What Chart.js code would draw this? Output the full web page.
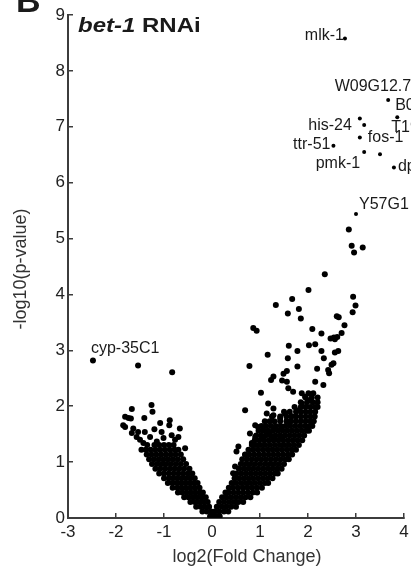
<!DOCTYPE html>
<html>
<head>
<meta charset="utf-8">
<script src="https://cdn.jsdelivr.net/npm/chart.js@4.4.0/dist/chart.umd.min.js"></script>
<style>
  html, body { margin: 0; padding: 0; background: #fff; }
  #wrap { width: 411px; height: 573px; }
</style>
</head>
<body>
<div id="wrap"><canvas id="volcano" width="411" height="573"></canvas></div>
<script>
////data//////////////////////////////////////////////////////////////

// named genes: log2 fold change / -log10 p
const geneNames = ["mlk-1", "W09G12.7", "B0", "T19", "his-24", "fos-1", "ttr-51", "pmk-1", "dpy", "Y57G1", "cyp-35C1"];
const geneLogFC = [2.77, 4.19, 3.67, 3.86, 3.08, 3.08, 2.53, 3.17, 3.79, 3.0, -2.48];
const geneLogP = [8.58, 7.69, 7.48, 7.17, 7.15, 6.81, 6.66, 6.55, 6.27, 5.44, 2.82];

// scattered up-regulated genes [log2FC, -log10 p]
const upSparse = [
  [3.17, 7.03], [3.5, 6.51], [2.85, 5.16], [2.91, 4.87], [2.96, 4.75], [3.14, 4.84], [2.35, 4.36],
  [2.01, 4.08], [2.94, 3.96], [2.99, 3.8], [2.93, 3.68], [1.67, 3.92], [1.33, 3.81], [1.81, 3.74],
  [1.58, 3.66], [1.85, 3.57], [2.6, 3.61], [2.64, 3.59], [2.76, 3.45], [2.7, 3.31], [0.86, 3.4],
  [0.93, 3.35], [2.09, 3.38], [2.28, 3.3], [2.47, 3.21], [2.54, 3.23], [2.61, 3.24], [2.56, 3.2],
  [1.6, 3.08], [2.02, 3.09], [2.15, 3.11], [1.78, 2.99], [2.28, 2.99], [2.56, 2.96], [2.63, 2.99],
  [1.16, 2.92], [1.58, 2.86], [2.33, 2.86], [2.53, 2.77], [2.49, 2.74], [0.78, 2.72], [1.78, 2.71],
  [2.19, 2.67], [2.42, 2.65], [2.44, 2.59], [1.56, 2.63], [1.49, 2.58], [1.28, 2.53], [1.23, 2.47],
  [1.46, 2.46], [1.56, 2.44], [2.15, 2.44], [2.32, 2.38], [1.59, 2.32], [1.69, 2.26], [1.02, 2.24],
  [1.87, 2.23], [2.01, 2.23], [2.11, 2.23], [0.69, 1.93], [1.17, 2.05], [1.14, 1.87], [1.28, 1.84],
  [1.28, 1.96], [1.52, 1.87], [1.42, 1.78], [1.94, 2.17], [2.04, 2.11], [1.87, 2.05], [1.8, 1.93],
  [1.66, 1.82], [1.59, 1.72], [0.9, 1.66], [0.96, 1.63], [1.07, 1.57], [0.79, 1.51], [0.9, 1.45],
  [1.07, 1.45], [1.17, 1.54], [1.28, 1.43], [1.31, 1.6], [1.45, 1.6], [1.42, 1.45], [0.55, 1.28],
  [0.51, 1.19], [0.69, 1.13], [0.83, 1.34], [0.48, 0.92], [0.44, 0.8]
];

// scattered down-regulated genes [log2FC, -log10 p]
const downSparse = [
  [-1.54, 2.73], [-0.83, 2.61], [-1.67, 1.95], [-1.26, 2.02], [-1.24, 1.9], [-1.81, 1.81],
  [-1.74, 1.79], [-1.69, 1.78], [-1.41, 1.79], [-1.85, 1.66], [-1.81, 1.63], [-1.64, 1.6],
  [-1.08, 1.7], [-0.88, 1.75], [-0.89, 1.66], [-0.67, 1.6], [-1.2, 1.59], [-1.67, 1.52],
  [-1.57, 1.45], [-1.5, 1.4], [-1.43, 1.34], [-1.47, 1.22], [-1.29, 1.45], [-1.05, 1.54],
  [-1.01, 1.43], [-0.84, 1.48], [-0.77, 1.4], [-0.7, 1.45], [-0.56, 1.25], [-1.15, 1.37],
  [-1.4, 1.54], [-1.54, 1.54]
];

// dense bulk, read row by row: [-log10 p, [log2FC ...]]
const upRows = [
  [0.03, [0.03, 0.1, 0.16]],
  [0.115, [0.06, 0.15, 0.25, 0.34]],
  [0.2, [0.1, 0.2, 0.3, 0.4, 0.5]],
  [0.285, [0.15, 0.25, 0.35, 0.45, 0.55, 0.65]],
  [0.37, [0.21, 0.3, 0.4, 0.5, 0.6, 0.7, 0.8]],
  [0.455, [0.28, 0.35, 0.45, 0.55, 0.65, 0.75, 0.85, 0.94]],
  [0.54, [0.35, 0.44, 0.54, 0.64, 0.74, 0.84, 0.94, 1.04]],
  [0.625, [0.41, 0.5, 0.6, 0.7, 0.8, 0.9, 1.0, 1.1, 1.17]],
  [0.71, [0.47, 0.56, 0.66, 0.76, 0.86, 0.96, 1.06, 1.16, 1.26]],
  [0.795, [0.51, 0.61, 0.71, 0.81, 0.91, 1.01, 1.11, 1.21, 1.31, 1.37]],
  [0.88, [0.56, 0.66, 0.76, 0.86, 0.96, 1.06, 1.16, 1.26, 1.36, 1.45]],
  [0.965, [0.6, 0.7, 0.8, 0.9, 1.0, 1.1, 1.2, 1.3, 1.4, 1.5]],
  [1.05, [0.63, 0.73, 0.83, 0.93, 1.03, 1.13, 1.23, 1.33, 1.43, 1.53, 1.6]],
  [1.135, [0.69, 0.78, 0.88, 0.98, 1.08, 1.18, 1.28, 1.38, 1.48, 1.58, 1.67]],
  [1.22, [0.76, 0.86, 0.96, 1.06, 1.16, 1.26, 1.36, 1.46, 1.56, 1.66, 1.75]],
  [1.305, [0.83, 0.91, 1.01, 1.11, 1.21, 1.31, 1.41, 1.51, 1.61, 1.71, 1.81]],
  [1.39, [0.89, 0.98, 1.08, 1.18, 1.28, 1.38, 1.48, 1.58, 1.68, 1.78, 1.88]],
  [1.475, [0.92, 1.02, 1.12, 1.22, 1.32, 1.42, 1.52, 1.62, 1.72, 1.82, 1.92]],
  [1.56, [0.97, 1.07, 1.17, 1.27, 1.37, 1.47, 1.57, 1.67, 1.77, 1.87, 1.97, 2.02]],
  [1.645, [1.03, 1.13, 1.23, 1.33, 1.43, 1.53, 1.63, 1.73, 1.83, 1.93, 2.03, 2.09]],
  [1.73, [1.1, 1.2, 1.3, 1.42, 1.55, 1.65, 1.75, 1.85, 1.95, 2.05, 2.12]],
  [1.815, [1.25, 1.42, 1.55, 1.65, 1.75, 1.85, 1.95, 2.05, 2.14]],
  [1.9, [1.5, 1.62, 1.75, 1.85, 1.95, 2.05, 2.15]],
  [1.985, [1.72, 1.85, 1.95, 2.05, 2.15, 2.2]],
  [2.07, [1.85, 1.98, 2.1, 2.2]],
  [2.155, [1.95, 2.08, 2.2]]
];

const downRows = [
  [0.03, [-0.04, 0.0]],
  [0.115, [-0.2, -0.11, -0.02]],
  [0.2, [-0.33, -0.24, -0.15, -0.06]],
  [0.285, [-0.45, -0.36, -0.27, -0.18, -0.09]],
  [0.37, [-0.58, -0.49, -0.4, -0.31, -0.22, -0.13]],
  [0.455, [-0.71, -0.62, -0.53, -0.44, -0.35, -0.26, -0.19]],
  [0.54, [-0.82, -0.72, -0.63, -0.54, -0.45, -0.36, -0.26]],
  [0.625, [-0.92, -0.83, -0.74, -0.65, -0.56, -0.47, -0.38, -0.3]],
  [0.71, [-1.0, -0.9, -0.81, -0.72, -0.63, -0.54, -0.45, -0.36]],
  [0.795, [-1.1, -1.0, -0.9, -0.8, -0.7, -0.6, -0.5, -0.41]],
  [0.88, [-1.18, -1.08, -0.98, -0.88, -0.78, -0.68, -0.58, -0.47]],
  [0.965, [-1.25, -1.15, -1.05, -0.95, -0.85, -0.75, -0.65, -0.54]],
  [1.05, [-1.31, -1.21, -1.11, -1.01, -0.91, -0.81, -0.71, -0.6]],
  [1.135, [-1.36, -1.26, -1.16, -1.06, -0.96, -0.86, -0.76, -0.65]],
  [1.22, [-1.38, -1.28, -1.18, -1.08, -0.98, -0.88, -0.78, -0.7]],
  [1.305, [-1.35, -1.2, -1.1, -1.0, -0.9, -0.8]]
];

////build points//////////////////////////////////////////////////////

const toPoints = (pairs) => pairs.map(([x, y]) => ({ x: x, y: y }));
const rowPoints = (rows) => {
  let out = [];
  for (let r of rows) {
    for (let x of r[1]) out.push({ x: x, y: r[0] });
  }
  return out;
};
let genePoints = [];
for (let i = 0; i < geneNames.length; i++) {
  genePoints.push({ x: geneLogFC[i], y: geneLogP[i] });
}

////text placement (pixel offsets from each gene's dot)////////////////
// side L = text to the left of the dot, R = to the right
const labelOffsets = {
  "mlk-1": ["L", -1, -3],
  "W09G12.7": ["L", -2, -2],
  "B0": ["R", 7, 6],
  "T19": ["R", -6, 10],
  "his-24": ["L", -8, 7],
  "fos-1": ["R", 8, 0],
  "ttr-51": ["L", -3, -1],
  "pmk-1": ["L", -4, 12],
  "dpy": ["R", 4, -1],
  "Y57G1": ["R", 3, -9],
  "cyp-35C1": ["R", -2, -12]
};

const FONT = "'Liberation Sans', Arial, sans-serif";
const axisColor = "#3c3c3c";
const dotRadius = (c) => (c.raw && c.raw.y > 5.3 ? 2.0 : 3.0);

const textPlugin = {
  id: "texts",
  afterDraw(chart) {
    const ctx = chart.ctx;
    const xs = chart.scales.x, ys = chart.scales.y;
    ctx.save();
    ctx.fillStyle = "#1a1a1a";

    // gene labels
    ctx.font = "16px " + FONT;
    ctx.textBaseline = "middle";
    for (let i = 0; i < geneNames.length; i++) {
      const o = labelOffsets[geneNames[i]];
      const px = xs.getPixelForValue(geneLogFC[i]);
      const py = ys.getPixelForValue(geneLogP[i]);
      ctx.textAlign = o[0] == "L" ? "right" : "left";
      ctx.fillText(geneNames[i], px + o[1], py + o[2]);
    }

    // panel letter (cut at top)
    ctx.textAlign = "left";
    ctx.textBaseline = "alphabetic";
    ctx.font = "bold 34px " + FONT;
    ctx.fillText("B", 16, 12);

    // bet-1 RNAi
    ctx.save();
    ctx.translate(78, 32);
    ctx.scale(1.2, 1);
    ctx.font = "italic bold 20px " + FONT;
    ctx.fillText("bet-1", 0, 0);
    const w = ctx.measureText("bet-1").width;
    ctx.font = "bold 20px " + FONT;
    ctx.fillText(" RNAi", w, 0);
    ctx.restore();

    // axis titles
    ctx.fillStyle = "#333";
    ctx.font = "18px " + FONT;
    ctx.textAlign = "center";
    ctx.textBaseline = "middle";
    ctx.fillText("log2(Fold Change)", 247, 557);
    ctx.save();
    ctx.translate(21, 269);
    ctx.rotate(-Math.PI / 2);
    ctx.fillText("-log10(p-value)", 0, 0);
    ctx.restore();

    ctx.restore();
  }
};

const dotStyle = {
  backgroundColor: "#000",
  borderWidth: 0,
  pointRadius: dotRadius,
  pointHoverRadius: dotRadius,
  showLine: false
};

const myChart = new Chart(document.getElementById("volcano"), {
  type: "scatter",
  data: {
    datasets: [
      Object.assign({ data: rowPoints(downRows) }, dotStyle),
      Object.assign({ data: rowPoints(upRows) }, dotStyle),
      Object.assign({ data: toPoints(downSparse) }, dotStyle),
      Object.assign({ data: toPoints(upSparse) }, dotStyle),
      Object.assign({ data: genePoints }, dotStyle)
    ]
  },
  options: {
    responsive: false,
    animation: false,
    layout: { padding: { top: 15, right: 7, left: 0, bottom: 0 } },
    plugins: {
      legend: { display: false },
      tooltip: { enabled: false }
    },
    scales: {
      x: {
        type: "linear",
        min: -3,
        max: 4,
        afterFit: (s) => { s.height = 55; s.paddingRight = 0; s.paddingLeft = 0; },
        ticks: { stepSize: 1, color: "#222", font: { family: FONT, size: 17 }, padding: 9 },
        grid: { drawOnChartArea: false, drawTicks: true, tickLength: -5, color: axisColor, lineWidth: 1.5 },
        border: { display: true, color: axisColor, width: 2 }
      },
      y: {
        type: "linear",
        min: 0,
        max: 9,
        afterFit: (s) => { s.width = 68; s.paddingTop = 0; s.paddingBottom = 0; },
        ticks: { stepSize: 1, color: "#222", font: { family: FONT, size: 17 }, padding: 8 },
        grid: { drawOnChartArea: false, drawTicks: true, tickLength: -5, color: axisColor, lineWidth: 1.5 },
        border: { display: true, color: axisColor, width: 2 }
      }
    }
  },
  plugins: [textPlugin]
});
</script>
</body>
</html>
